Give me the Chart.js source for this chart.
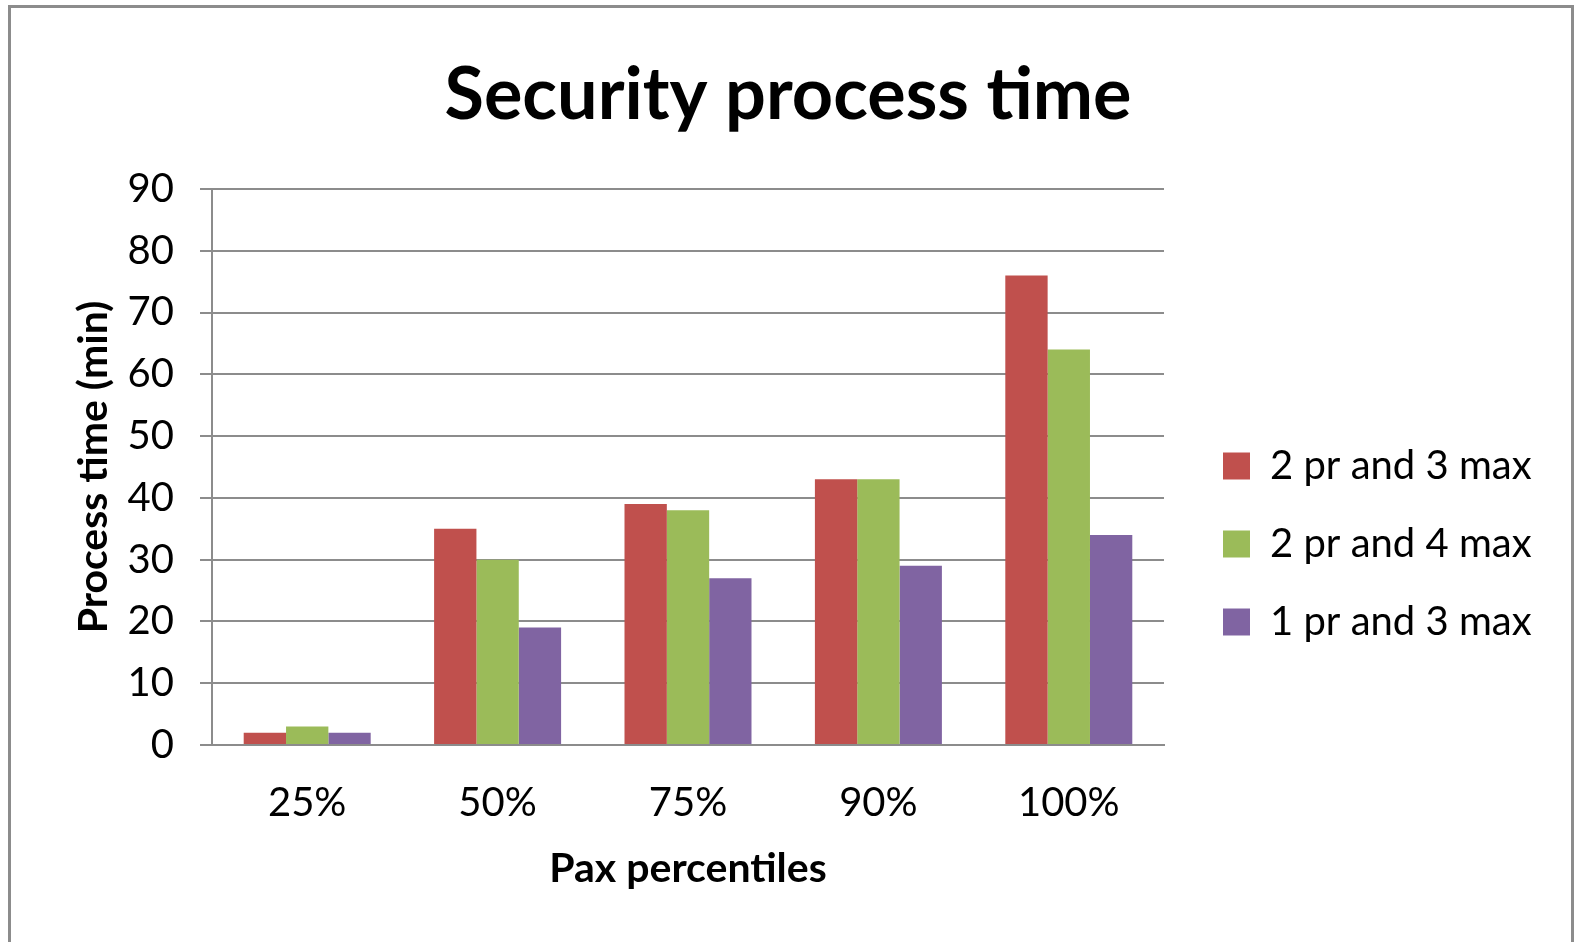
<!DOCTYPE html>
<html>
<head>
<meta charset="utf-8">
<title>Security process time</title>
<script src="https://cdn.jsdelivr.net/npm/chart.js@4/dist/chart.umd.min.js"></script>
<style>
  html, body { margin: 0; padding: 0; background: #ffffff; overflow: hidden; }
  #frame {
    position: absolute; left: 8px; top: 5px; width: 1566px; height: 1000px;
    box-sizing: border-box; border: 3px solid #8c8c8c;
  }
  #chart { position: absolute; left: 0; top: 0; }
</style>
</head>
<body>
<div id="frame"></div>
<canvas id="chart" width="1576" height="942"></canvas>
<script>
// Percentile categories on the x axis
const categories = ['25%', '50%', '75%', '90%', '100%'];

// Series names
const seriesNames = ['2 pr and 3 max', '2 pr and 4 max', '1 pr and 3 max'];

// Process time (min) per scenario
const pr2max3 = [2, 35, 39, 43, 76];
const pr2max4 = [3, 30, 38, 43, 64];
const pr1max3 = [2, 19, 27, 29, 34];

// Value axis ticks
const yMin = 0;
const yMax = 90;
const yStep = 10;

const seriesColors = ['#c0504d', '#9bbb59', '#8064a2'];
const gridGray = '#8c8c8c';
const FONT = 'Lato';

// Fixed legend column width, so the plot area ends where the legend begins
const legendColumn = {
  id: 'legendColumn',
  beforeInit(chart) {
    const fit = chart.legend.fit;
    chart.legend.fit = function () {
      fit.call(this);
      this.width = 412;
    };
  }
};

const seriesValues = [pr2max3, pr2max4, pr1max3];

new Chart(document.getElementById('chart'), {
  type: 'bar',
  data: {
    labels: categories,
    datasets: seriesNames.map((name, i) => ({
      label: name,
      data: seriesValues[i],
      backgroundColor: seriesColors[i],
      borderWidth: 0,
      categoryPercentage: 0.667,
      barPercentage: 1.0
    }))
  },
  options: {
    responsive: false,
    animation: false,
    layout: { padding: 0 },
    plugins: {
      title: {
        display: true,
        text: 'Security process time',
        color: '#000000',
        font: { family: FONT, size: 72, weight: 'bold', lineHeight: 1 },
        padding: { top: 60, bottom: 57 }
      },
      legend: {
        display: true,
        position: 'right',
        align: 'center',
        title: {
          display: true,
          text: '',
          font: { size: 12, lineHeight: 1 },
          padding: { top: 113, bottom: 0 }
        },
        labels: {
          color: '#000000',
          font: { family: FONT, size: 40, lineHeight: 19 / 40 },
          boxWidth: 27,
          boxHeight: 27,
          padding: 59,
          generateLabels(chart) {
            return Chart.defaults.plugins.legend.labels.generateLabels(chart)
              .map(item => Object.assign({}, item, { text: [item.text] }));
          }
        }
      },
      tooltip: { enabled: false }
    },
    scales: {
      x: {
        offset: true,
        grid: { display: false, drawTicks: false },
        border: { display: true, color: gridGray, width: 2 },
        ticks: {
          color: '#000000',
          font: { family: FONT, size: 40 },
          padding: 34
        },
        title: {
          display: true,
          text: 'Pax percentiles',
          color: '#000000',
          font: { family: FONT, size: 41, weight: 'bold' },
          padding: { top: 0, bottom: 49 }
        },
        afterFit(scale) { scale.height = 197; }
      },
      y: {
        min: yMin,
        max: yMax,
        ticks: {
          stepSize: yStep,
          color: '#000000',
          font: { family: FONT, size: 40 },
          padding: 26
        },
        grid: {
          color: gridGray,
          lineWidth: 2,
          drawTicks: true,
          tickLength: 12
        },
        border: { display: true, color: gridGray, width: 2 },
        title: {
          display: true,
          text: 'Process time (min)',
          color: '#000000',
          font: { family: FONT, size: 41, weight: 'bold' },
          padding: { top: 69, bottom: 0 }
        },
        afterFit(scale) { scale.width = 212; }
      }
    }
  },
  plugins: [legendColumn]
});
</script>
</body>
</html>
